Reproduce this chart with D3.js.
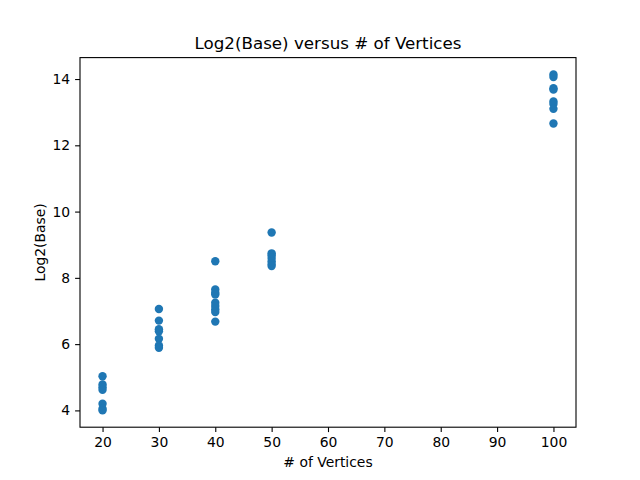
<!DOCTYPE html>
<html>
<head>
<meta charset="utf-8">
<script src="https://cdn.jsdelivr.net/npm/d3@7"></script>
<style>
  body { margin: 0; background: #fff; }
  text { font-family: "DejaVu Sans", sans-serif; }
</style>
</head>
<body>
<div id="chart"></div>
<script>
// vertex counts and the log2(base) values measured at each
const vertices = [20, 30, 40, 50, 100];
const log2Base = [
  [5.03, 4.78, 4.70, 4.62, 4.20, 4.05, 4.00],
  [7.06, 6.71, 6.45, 6.39, 6.16, 5.96, 5.89],
  [8.50, 7.65, 7.55, 7.50, 7.25, 7.15, 7.05, 6.97, 6.68],
  [9.37, 8.74, 8.68, 8.60, 8.50, 8.42, 8.36],
  [14.14, 14.06, 13.72, 13.68, 13.32, 13.25, 13.10, 12.66]
];
const xTicks = [20, 30, 40, 50, 60, 70, 80, 90, 100];
const yTicks = [4, 6, 8, 10, 12, 14];

const width = 640, height = 480;
const marginLeft = 80, marginRight = 64, marginTop = 57.6, marginBottom = 52.8;

const points = vertices.flatMap((v, i) => log2Base[i].map(y => ({x: v, y: y})));

// matplotlib style 5% padding around data
function pad(ext) {
  const d = (ext[1] - ext[0]) * 0.05;
  return [ext[0] - d, ext[1] + d];
}
const xScale = d3.scaleLinear(pad(d3.extent(points, d => d.x)), [marginLeft, width - marginRight]);
const yScale = d3.scaleLinear(pad(d3.extent(points, d => d.y)), [height - marginBottom, marginTop]);

const svg = d3.select("#chart").append("svg")
    .attr("width", width)
    .attr("height", height);

svg.append("g")
  .selectAll("circle")
  .data(points)
  .join("circle")
    .attr("cx", d => xScale(d.x))
    .attr("cy", d => yScale(d.y))
    .attr("r", 4.2)
    .attr("fill", "#1f77b4");

const xAxis = d3.axisBottom(xScale).tickValues(xTicks).tickSizeInner(4.9).tickSizeOuter(0).tickPadding(4.9);
const yAxis = d3.axisLeft(yScale).tickValues(yTicks).tickSizeInner(4.9).tickSizeOuter(0).tickPadding(4.9);

svg.append("g")
    .attr("transform", `translate(0,${height - marginBottom})`)
    .call(xAxis)
    .call(g => g.select(".domain").remove())
    .call(g => g.selectAll("line").attr("stroke-width", 1.1))
    .call(g => g.selectAll("text").attr("font-size", 13.9).attr("fill", "#000").attr("font-family", "DejaVu Sans"));

svg.append("g")
    .attr("transform", `translate(${marginLeft},0)`)
    .call(yAxis)
    .call(g => g.select(".domain").remove())
    .call(g => g.selectAll("line").attr("stroke-width", 1.1))
    .call(g => g.selectAll("text").attr("font-size", 13.9).attr("fill", "#000").attr("font-family", "DejaVu Sans"));

// frame
svg.append("rect")
    .attr("x", marginLeft)
    .attr("y", marginTop)
    .attr("width", width - marginLeft - marginRight)
    .attr("height", height - marginTop - marginBottom)
    .attr("fill", "none")
    .attr("stroke", "#000")
    .attr("stroke-width", 1.1);

svg.append("text")
    .attr("x", (marginLeft + width - marginRight) / 2)
    .attr("y", marginTop - 8.3)
    .attr("text-anchor", "middle")
    .attr("font-size", 16.7)
    .text("Log2(Base) versus # of Vertices");

svg.append("text")
    .attr("x", (marginLeft + width - marginRight) / 2)
    .attr("y", 467)
    .attr("text-anchor", "middle")
    .attr("font-size", 13.9)
    .text("# of Vertices");

svg.append("text")
    .attr("transform", `translate(44.5,${(marginTop + height - marginBottom) / 2}) rotate(-90)`)
    .attr("text-anchor", "middle")
    .attr("font-size", 13.9)
    .text("Log2(Base)");
</script>
</body>
</html>
